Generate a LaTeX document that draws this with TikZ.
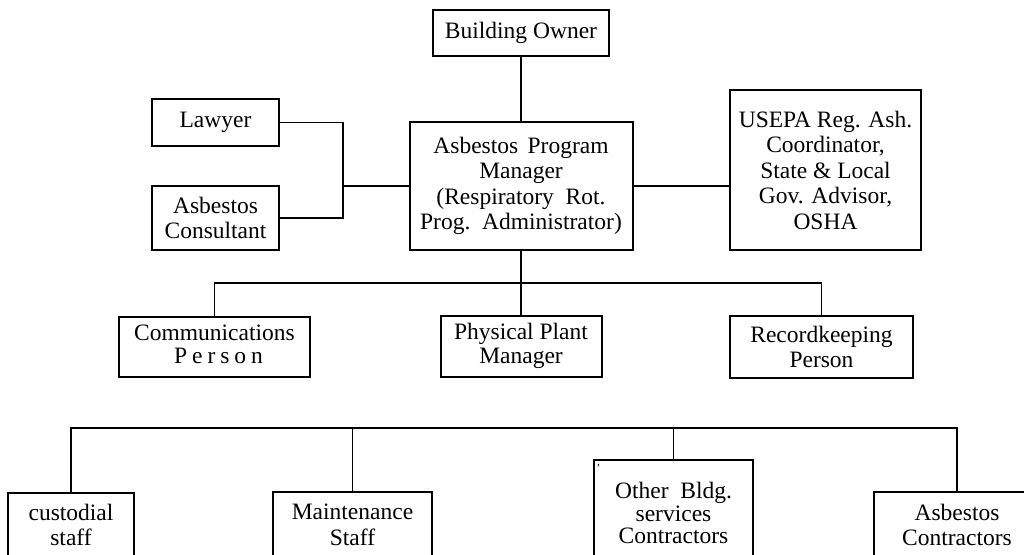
\documentclass[tikz,border=0pt]{standalone}
\usepackage{fontspec}
\setmainfont{Liberation Serif}
\newcommand{\orgfont}{\fontsize{23.5pt}{25.5pt}\selectfont}
\newcommand{\dsp}{\hspace{0.5em}}
\begin{document}
\begin{tikzpicture}[x=1pt,y=-1pt,
  orgbox/.style={draw=black, line width=2pt, inner sep=0pt, align=center, font=\orgfont, text=black},
  link/.style={draw=black, line width=1.8pt}]
\useasboundingbox (0,0) rectangle (1024,554);
\clip (0,0) rectangle (1024,554);
\fill[white] (0,0) rectangle (1024,554);

% upper part
\node[orgbox, minimum width=176pt, minimum height=46pt] (owner) at (521,33) {Building Owner};
\node[orgbox, minimum width=127pt, minimum height=47pt] (lawyer) at (215.5,122.5) {Lawyer};
\node[orgbox, minimum width=127pt, minimum height=64pt] (consult) at (215.5,218) {Asbestos\\Consultant};
\node[orgbox, minimum width=223pt, minimum height=128pt] (manager) at (521,186)
  {Asbestos\hspace{0.4em}Program\\Manager\\(Respiratory\dsp Rot.\\Prog.\dsp Administrator)};
\node[orgbox, minimum width=191pt, minimum height=160pt] (usepa) at (825.5,170)
  {USEPA Reg. Ash.\\Coordinator,\\State \& Local\\Gov. Advisor,\\OSHA};

% middle row
\node[orgbox, minimum width=191pt, minimum height=60pt] (comm) at (214.5,347)
  {\raisebox{-4pt}{\begin{tabular}{@{}c@{}}Communications\\[-2pt]\hspace{8pt}P\kern5pt e\kern5pt r\kern5pt s\kern5pt o\kern5pt n\end{tabular}}};
\node[orgbox, minimum width=161pt, minimum height=61pt] (plant) at (521,346.5)
  {\raisebox{-3pt}{\begin{tabular}{@{}c@{}}Physical Plant\\[-2pt]Manager\end{tabular}}};
\node[orgbox, minimum width=183pt, minimum height=62pt] (record) at (821.5,347)
  {Recordkeeping\\Person};

% bottom row
\node[orgbox, minimum width=126pt, minimum height=64pt] (cust) at (71,525) {custodial\\staff};
\node[orgbox, minimum width=159pt, minimum height=66pt] (maint) at (352.5,525) {Maintenance\\Staff};
\node[orgbox, minimum width=159pt, minimum height=112pt] (other) at (673.5,516)
  {\raisebox{3pt}{\begin{tabular}{@{}c@{}}Other\dsp Bldg.\\[-3pt]services\\[-3pt]Contractors\end{tabular}}};
\node[orgbox, minimum width=166pt, minimum height=66pt] (asbc) at (957,525) {Asbestos\\Contractors};
\node[font=\fontsize{12pt}{12pt}\selectfont, inner sep=0pt] (comma) at (598.5,466) {,};

% connectors
\coordinate (j1) at (343,186);
\coordinate (bus1) at (0,283);
\coordinate (bus2) at (0,428);
\draw[link] (owner.south) -- (manager.north);
\draw[link] (lawyer.east) -| (j1);
\draw[link] (consult.east) -| (j1);
\draw[link] (j1) -- (manager.west);
\draw[link] (manager.east) -- (manager.east -| usepa.west);
\draw[link] (manager.south) -- (plant.north);
\draw[link] (comm.north) -- (comm.north |- bus1) -- (record.north |- bus1) -- (record.north);
\draw[link] (cust.north) -- (cust.north |- bus2) -- (asbc.north |- bus2) -- (asbc.north);
\draw[link] (maint.north) -- (maint.north |- bus2);
\draw[link] (other.north) -- (other.north |- bus2);
\end{tikzpicture}
\end{document}
